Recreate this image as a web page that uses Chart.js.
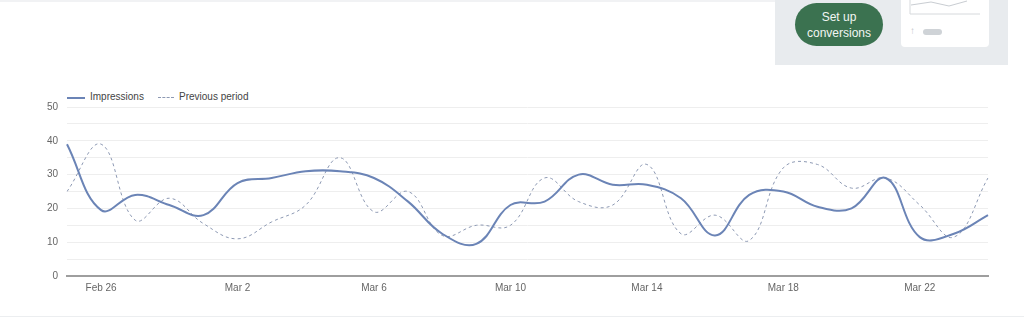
<!DOCTYPE html>
<html>
<head>
<meta charset="utf-8">
<script src="https://cdn.jsdelivr.net/npm/chart.js@4"></script>
<style>
  html, body { margin: 0; padding: 0; background: #fff; }
  body { width: 1024px; height: 320px; position: relative; overflow: hidden; font-family: "Liberation Sans", Arial, sans-serif; }
  .topline { position: absolute; left: 0; top: 0; width: 775px; height: 2px; background: #f1f2f4; }
  .bottomline { position: absolute; left: 0; top: 316px; width: 1024px; height: 1px; background: #eceef0; }
  .panel { position: absolute; left: 775px; top: 0; width: 233px; height: 65px; background: #e8ebee; }
  .btn { position: absolute; left: 795px; top: 3px; width: 88px; height: 43px; border-radius: 22px; background: #3b7250;
         color: #f2f6f3; font-size: 12px; line-height: 16px; text-align: center; display: flex; align-items: center; justify-content: center; }
  .card { position: absolute; left: 901px; top: 0; width: 88px; height: 47px; background: #fff; border-radius: 0 0 4px 4px; }
  .card svg { position: absolute; left: 0; top: 0; }
  .pill { position: absolute; left: 923px; top: 29px; width: 19px; height: 6px; border-radius: 3px; background: #cfd3d7; }
  .arrow { position: absolute; left: 910px; top: 25px; color: #bfc4c9; font-size: 10px; }
  .legend { position: absolute; top: 91px; left: 67px; font-size: 10px; color: #444; }
  .legend span { position: absolute; white-space: nowrap; top: 0; }
  .legend i { position: absolute; top: 6px; display: block; }
  #wrap { position: absolute; left: 0; top: 92px; width: 1000px; height: 208px; }
</style>
</head>
<body>
<div class="topline"></div>
<div class="bottomline"></div>
<div class="panel"></div>
<div class="btn">Set up<br>conversions</div>
<div class="card">
  <svg width="88" height="20"><polyline points="10,5 30,2 48,6 66,1" fill="none" stroke="#c9cdd2" stroke-width="1"/><line x1="9" y1="14" x2="79" y2="14" stroke="#d6d9dc" stroke-width="1"/><line x1="9" y1="0" x2="9" y2="14" stroke="#d6d9dc" stroke-width="1"/></svg>
</div>
<div class="arrow">&#8593;</div>
<div class="pill"></div>
<div class="legend">
  <i style="left:0; width:18px; border-top:2px solid #6b84b6;"></i>
  <span style="left:23px;">Impressions</span>
  <i style="left:91px; width:16px; border-top:1px dashed #8d99b3;"></i>
  <span style="left:112px;">Previous period</span>
</div>
<div id="wrap"><canvas id="chart"></canvas></div>
<script>
const days = ['Feb 25', 'Feb 26', 'Feb 27', 'Feb 28', 'Mar 1', 'Mar 2', 'Mar 3', 'Mar 4', 'Mar 5', 'Mar 6',
  'Mar 7', 'Mar 8', 'Mar 9', 'Mar 10', 'Mar 11', 'Mar 12', 'Mar 13', 'Mar 14', 'Mar 15', 'Mar 16',
  'Mar 17', 'Mar 18', 'Mar 19', 'Mar 20', 'Mar 21', 'Mar 22', 'Mar 23', 'Mar 24'];
const impressions = [39, 19.5, 24, 21, 18, 27.5, 29, 31, 31, 29, 22, 12.5, 9.5, 21, 22, 30, 27, 27, 23, 12, 24, 25, 20.5, 20, 29, 11.5, 12.5, 18];
const previousPeriod = [25, 39, 16.5, 23, 15.5, 11, 16, 21, 35, 19, 25, 12, 15, 15, 29, 22, 21, 33, 12.5, 18, 10.5, 32, 33, 26, 29, 21, 11.5, 29];
const shownTicks = ['Feb 26', 'Mar 2', 'Mar 6', 'Mar 10', 'Mar 14', 'Mar 18', 'Mar 22'];
const yLabels = [0, 10, 20, 30, 40, 50];

new Chart(document.getElementById('chart'), {
  type: 'line',
  data: {
    labels: days,
    datasets: [{
      label: 'Impressions',
      data: impressions,
      borderColor: '#6b84b6',
      borderWidth: 2,
      pointRadius: 0,
      tension: 0.4,
      fill: false
    }, {
      label: 'Previous period',
      data: previousPeriod,
      borderColor: '#8d99b3',
      borderWidth: 1,
      borderDash: [3, 3],
      pointRadius: 0,
      tension: 0.4,
      fill: false
    }]
  },
  options: {
    responsive: true,
    maintainAspectRatio: false,
    animation: false,
    layout: { padding: { top: 6, right: 12, bottom: 0, left: 0 } },
    plugins: {
      legend: { display: false },
      tooltip: { enabled: false }
    },
    scales: {
      x: {
        offset: false,
        grid: { display: false, drawTicks: false },
        border: { color: '#9e9e9e', width: 2 },
        ticks: {
          autoSkip: false,
          maxRotation: 0,
          padding: 6,
          color: '#666',
          font: { family: 'Liberation Sans', size: 10 },
          callback: function(v, i) {
            const l = days[i];
            return shownTicks.includes(l) ? l : '';
          }
        }
      },
      y: {
        min: 0,
        max: 50,
        afterFit: function(axis) { axis.width = 67; },
        grid: { color: '#eeeeee', drawTicks: false },
        border: { display: false },
        ticks: {
          stepSize: 5,
          padding: 9,
          color: '#666',
          font: { family: 'Liberation Sans', size: 10 },
          callback: function(v) { return yLabels.includes(v) ? v : ''; }
        }
      }
    }
  }
});
</script>
</body>
</html>
